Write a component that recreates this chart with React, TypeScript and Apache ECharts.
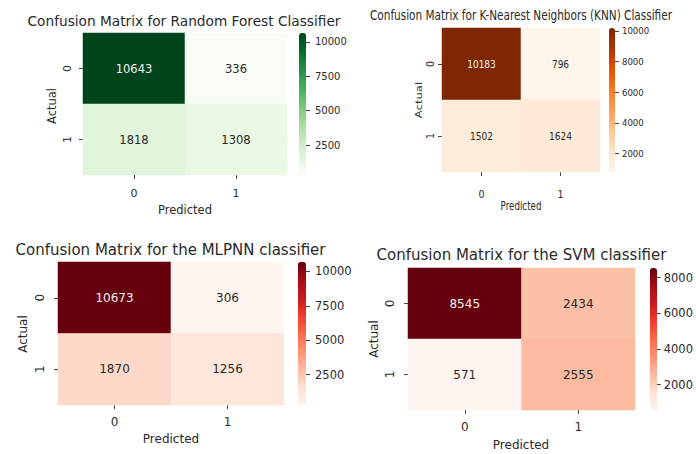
import React, { useEffect, useRef } from "react";
import * as echarts from "echarts";

// ---- data ----
const CATEGORIES = ["0", "1"];
const RF_VALUES = [
  [10643, 336],
  [1818, 1308],
];
const KNN_VALUES = [
  [10183, 796],
  [1502, 1624],
];
const MLP_VALUES = [
  [10673, 306],
  [1870, 1256],
];
const SVM_VALUES = [
  [8545, 2434],
  [571, 2555],
];
const RF_TICKS = [2500, 5000, 7500, 10000];
const KNN_TICKS = [2000, 4000, 6000, 8000, 10000];
const MLP_TICKS = [2500, 5000, 7500, 10000];
const SVM_TICKS = [2000, 4000, 6000, 8000];
const TITLES = [
  "Confusion Matrix for Random Forest Classifier",
  "Confusion Matrix for K-Nearest Neighbors (KNN) Classifier",
  "Confusion Matrix for the MLPNN classifier",
  "Confusion Matrix for the SVM classifier",
];
const X_NAME = "Predicted";
const Y_NAME = "Actual";

// ---- styles ----
const GREENS = ["#f7fcf5", "#e5f5e0", "#c7e9c0", "#a1d99b", "#74c476", "#41ab5d", "#238b45", "#006d2c", "#00441b"];
const ORANGES = ["#fff5eb", "#fee6ce", "#fdd0a2", "#fdae6b", "#fd8d3c", "#f16913", "#d94801", "#a63603", "#7f2704"];
const REDS = ["#fff5f0", "#fee0d2", "#fcbba1", "#fc9272", "#fb6a4a", "#ef3b2c", "#cb181d", "#a50f15", "#67000d"];
const TXT = "#2a2a2a";
const REG = '"DejaVu Sans", sans-serif';
const COND = '"DejaVu Sans Condensed", "DejaVu Sans", sans-serif';

const PANELS = [
  {
    title: TITLES[0], values: RF_VALUES, ticks: RF_TICKS, colors: GREENS, font: REG, sx: 1,
    box: { left: 83, top: 33, width: 204, height: 142 }, cbar: { left: 299, width: 7, margin: 9 },
    titlePos: [184, 21], actualPos: [52, 106], predPos: [185, 210],
    fs: { title: 13.7, value: 11.5, tick: 11, name: 11.5, cbar: 10 }, xm: 12.5, ym: 10.5,
  },
  {
    title: TITLES[1], values: KNN_VALUES, ticks: KNN_TICKS, colors: ORANGES, font: COND, sx: 0.75,
    box: { left: 442, top: 28, width: 158, height: 144 }, cbar: { left: 609, width: 6, margin: 7 },
    titlePos: [521, 15], actualPos: [419, 100], predPos: [521, 205],
    fs: { title: 14, value: 10, tick: 10.5, name: 11.6, cbar: 9.5 }, xm: 16, ym: 7,
  },
  {
    title: TITLES[2], values: MLP_VALUES, ticks: MLP_TICKS, colors: REDS, font: REG, sx: 1,
    box: { left: 58, top: 262, width: 226, height: 143 }, cbar: { left: 298, width: 8, margin: 9 },
    titlePos: [170.5, 250], actualPos: [23, 334], predPos: [171, 439],
    fs: { title: 15, value: 12, tick: 12, name: 12, cbar: 11.5 }, xm: 11, ym: 12,
  },
  {
    title: TITLES[3], values: SVM_VALUES, ticks: SVM_TICKS, colors: REDS, font: REG, sx: 1,
    box: { left: 408, top: 268, width: 227, height: 142 }, cbar: { left: 650, width: 7, margin: 7 },
    titlePos: [521.5, 255], actualPos: [374, 339], predPos: [521, 445],
    fs: { title: 15, value: 12, tick: 12, name: 12, cbar: 11.5 }, xm: 11, ym: 12,
  },
];

function buildOption() {
  const grid: any[] = [];
  const xAxis: any[] = [];
  const yAxis: any[] = [];
  const series: any[] = [];
  const visualMap: any[] = [];
  const graphic: any[] = [];

  PANELS.forEach((p, i) => {
    const flat = p.values.flat();
    const vmin = Math.min(...flat);
    const vmax = Math.max(...flat);
    const g = i * 2;
    grid.push({ left: p.box.left, top: p.box.top, width: p.box.width, height: p.box.height, containLabel: false });
    grid.push({ left: p.cbar.left, top: p.box.top, width: p.cbar.width, height: p.box.height, containLabel: false });

    xAxis.push({
      type: "category", gridIndex: g, data: CATEGORIES, position: "bottom",
      axisLine: { show: false },
      axisTick: { show: true, alignWithLabel: true, length: 4, lineStyle: { color: "#444" } },
      axisLabel: { color: TXT, fontSize: p.fs.tick, fontFamily: p.font, margin: p.xm },
      splitLine: { show: false },
    });
    xAxis.push({ type: "category", gridIndex: g + 1, data: [""], show: false });

    yAxis.push({
      type: "category", gridIndex: g, data: CATEGORIES, inverse: true,
      axisLine: { show: false },
      axisTick: { show: true, alignWithLabel: true, length: 4, lineStyle: { color: "#444" } },
      axisLabel: { color: TXT, fontSize: p.fs.tick, fontFamily: p.font, margin: p.ym, rotate: 90 },
      splitLine: { show: false },
    });
    yAxis.push({
      type: "value", gridIndex: g + 1, position: "right", min: vmin, max: vmax,
      axisLine: { show: false },
      splitLine: { show: false },
      axisTick: { show: true, length: 4, customValues: p.ticks, lineStyle: { color: "#444" } },
      axisLabel: {
        show: true, customValues: p.ticks, color: TXT, fontSize: p.fs.cbar, fontFamily: p.font,
        margin: p.cbar.margin, formatter: (v: number) => String(v),
      },
    });

    const data: any[] = [];
    p.values.forEach((row, r) => {
      row.forEach((v, c) => {
        const t = (v - vmin) / (vmax - vmin);
        data.push({ value: [c, r, v], label: { color: t > 0.6 ? "#f5f0f0" : TXT } });
      });
    });
    const sIdx = series.length;
    series.push({
      type: "heatmap", xAxisIndex: g, yAxisIndex: g, data,
      label: { show: true, fontSize: p.fs.value, fontFamily: p.font, color: TXT, formatter: (d: any) => String(d.value[2]) },
      itemStyle: { borderWidth: 0 },
      emphasis: { disabled: true },
    });
    series.push({ type: "line", xAxisIndex: g + 1, yAxisIndex: g + 1, data: [], silent: true });

    visualMap.push({
      type: "continuous", seriesIndex: sIdx, min: vmin, max: vmax, calculable: false,
      orient: "vertical", left: p.cbar.left, top: p.box.top, itemWidth: p.cbar.width, itemHeight: p.box.height,
      padding: 0, text: null, showLabel: false, hoverLink: false, realtime: false,
      inRange: { color: p.colors },
    });

    const gfont = p.sx !== 1 ? REG : p.font;
    graphic.push({
      type: "text", x: p.titlePos[0], y: p.titlePos[1], scaleX: p.sx, silent: true,
      style: { text: p.title, fill: TXT, font: `${p.fs.title}px ${gfont}`, align: "center", verticalAlign: "middle" },
    });
    graphic.push({
      type: "text", x: p.predPos[0], y: p.predPos[1], scaleX: p.sx, silent: true,
      style: { text: X_NAME, fill: TXT, font: `${p.fs.name}px ${gfont}`, align: "center", verticalAlign: "middle" },
    });
    graphic.push({
      type: "text", x: p.actualPos[0], y: p.actualPos[1], rotation: Math.PI / 2, scaleY: p.sx, silent: true,
      style: { text: Y_NAME, fill: TXT, font: `${p.fs.name}px ${gfont}`, align: "center", verticalAlign: "middle" },
    });
  });

  return {
    animation: false,
    backgroundColor: "#ffffff",
    grid, xAxis, yAxis, series, visualMap, graphic,
  };
}

export default function App() {
  const ref = useRef<HTMLDivElement>(null);
  useEffect(() => {
    if (!ref.current) return;
    const chart = echarts.init(ref.current, null, { renderer: "svg" });
    chart.setOption(buildOption() as any);
    return () => chart.dispose();
  }, []);
  return <div ref={ref} style={{ position: "fixed", left: 0, top: 0, width: 696, height: 454 }} />;
}
